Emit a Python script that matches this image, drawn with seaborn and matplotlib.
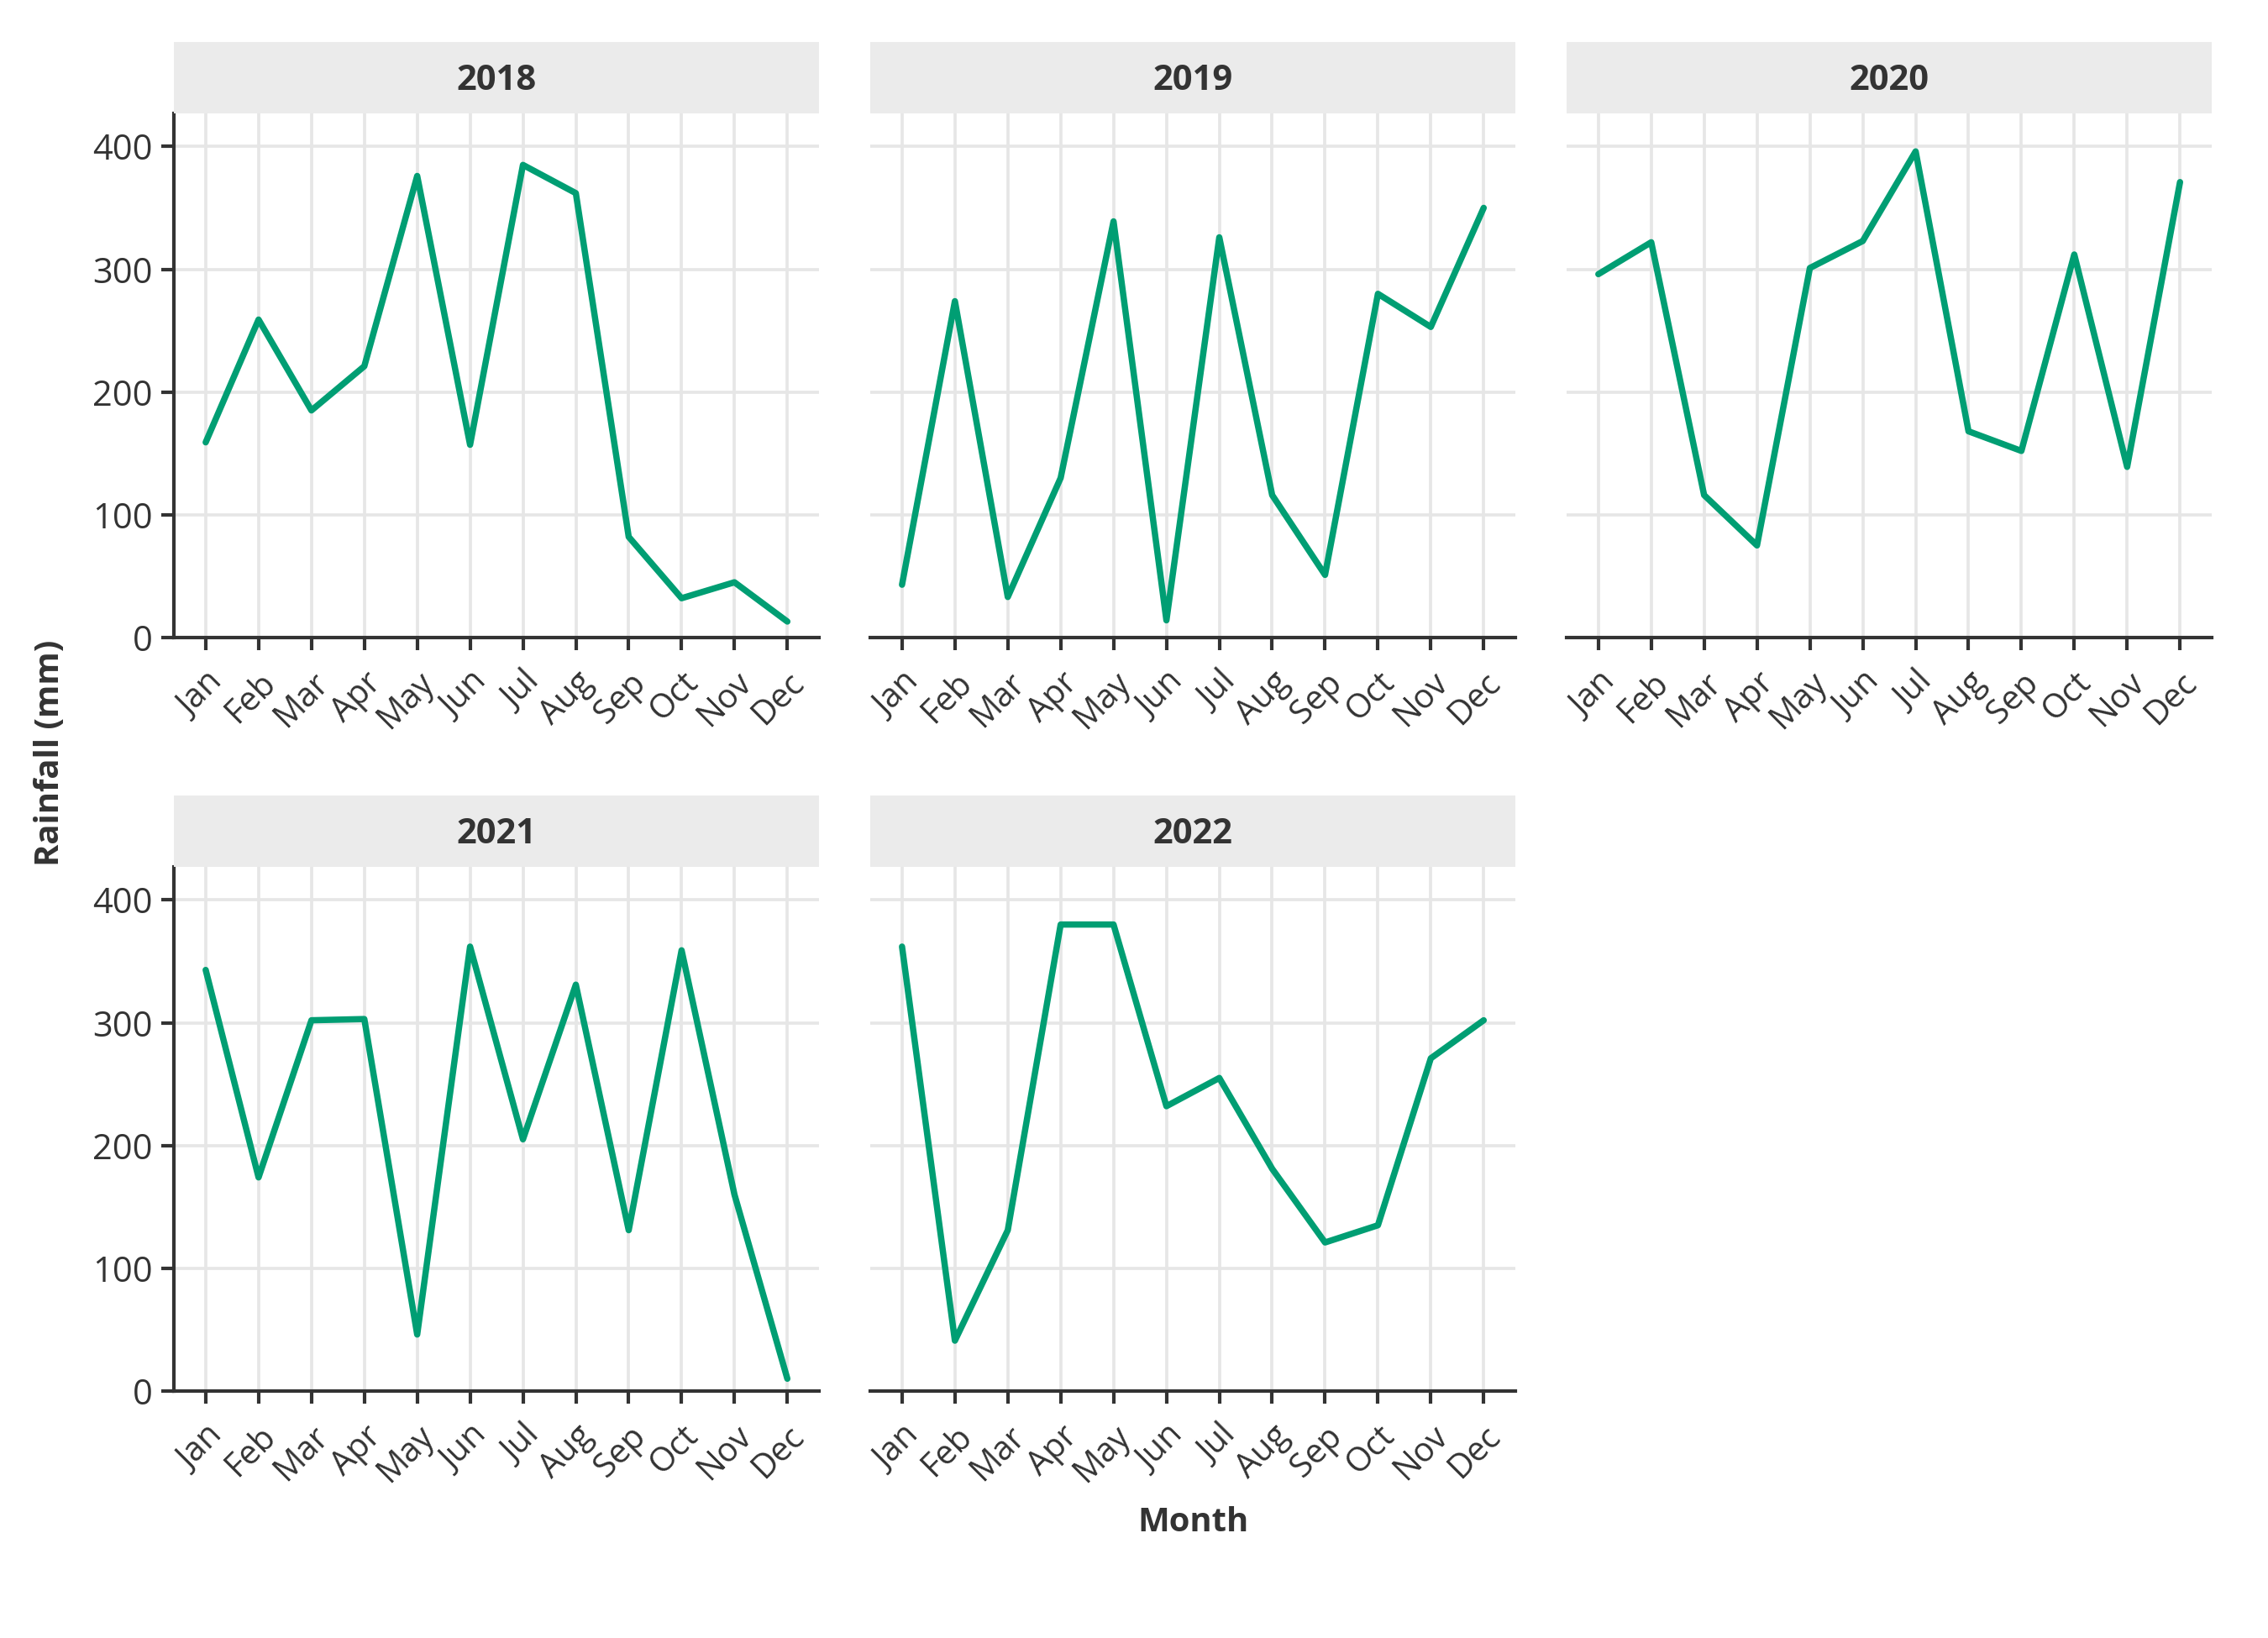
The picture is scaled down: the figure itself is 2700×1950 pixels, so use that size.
import matplotlib
matplotlib.use("Agg")
import matplotlib.pyplot as plt
from matplotlib.patches import Rectangle
import seaborn as sns
import pandas as pd

months = ["Jan", "Feb", "Mar", "Apr", "May", "Jun",
          "Jul", "Aug", "Sep", "Oct", "Nov", "Dec"]
years = [2018, 2019, 2020, 2021, 2022]

rain_2018 = [159, 259, 185, 221, 376, 157, 385, 362, 82, 32, 45, 13]
rain_2019 = [43, 274, 33, 130, 339, 14, 326, 116, 51, 280, 253, 350]
rain_2020 = [296, 322, 116, 75, 301, 323, 396, 168, 152, 312, 139, 371]
rain_2021 = [343, 174, 302, 303, 46, 362, 205, 331, 131, 359, 160, 10]
rain_2022 = [362, 41, 131, 380, 380, 232, 255, 181, 121, 135, 271, 302]

y_ticks = [0, 100, 200, 300, 400]

series = [rain_2018, rain_2019, rain_2020, rain_2021, rain_2022]
rows = []
for yr, vals in zip(years, series):
    for m, v in zip(months, vals):
        rows.append({"Year": yr, "Month": m, "Rainfall": v})
df = pd.DataFrame(rows)

sns.set_theme(style="whitegrid")
plt.rcParams["font.family"] = ["Open Sans", "DejaVu Sans"]
plt.rcParams.update({
    "grid.color": "#e6e6e6",
    "grid.linewidth": 0.9,
    "axes.edgecolor": "#333333",
    "axes.linewidth": 1.0,
    "xtick.color": "#333333",
    "ytick.color": "#333333",
    "xtick.labelcolor": "#333333",
    "ytick.labelcolor": "#333333",
    "text.color": "#333333",
    "axes.labelcolor": "#333333",
})

GREEN = "#009E73"
DARK = "#333333"

g = sns.relplot(data=df, x="Month", y="Rainfall", col="Year", col_wrap=3,
                kind="line", color=GREEN, linewidth=1.8,
                height=3, aspect=1, facet_kws={"sharey": True, "sharex": True})

fig = g.figure
fig.set_size_inches(9, 6.5)
fig.subplots_adjust(left=0.0767, right=0.9752, top=0.9308, bottom=0.1508,
                    wspace=0.0794, hspace=0.4375)

g.set_titles("")
g.set_axis_labels("", "")

axes = g.axes.flatten()
for i, (ax, yr) in enumerate(zip(axes, years)):
    ax.set_ylim(0, 427)
    ax.set_xlim(-0.6, 11.6)
    ax.set_yticks(y_ticks)
    ax.grid(True, axis="both", color="#e6e6e6", linewidth=0.9)
    ax.set_axisbelow(True)
    for s in ["top", "right"]:
        ax.spines[s].set_visible(False)
    ax.spines["bottom"].set_visible(True)
    ax.spines["bottom"].set_color(DARK)
    left_col = (i % 3 == 0)
    ax.spines["left"].set_visible(left_col)
    ax.spines["left"].set_color(DARK)
    ax.tick_params(axis="x", bottom=True, length=3.6, width=1.0,
                   color=DARK, labelsize=9.5, pad=4.5, labelbottom=True)
    ax.tick_params(axis="y", left=left_col, length=3.6, width=1.0,
                   color=DARK, labelsize=10, pad=2.5, labelleft=left_col)
    ax.set_xticks(range(len(months)))
    ax.set_xticklabels(months, rotation=45, ha="right", va="top",
                       rotation_mode="anchor")
    # facet strip
    strip_h = 0.136
    ax.add_patch(Rectangle((0, 1.0), 1, strip_h, transform=ax.transAxes,
                           facecolor="#ebebeb", edgecolor="none",
                           clip_on=False, zorder=3))
    ax.text(0.5, 1.0443, str(yr), transform=ax.transAxes,
            ha="center", va="baseline", fontsize=10, fontweight="bold",
            color=DARK, zorder=4)
    ax.set_xlabel("")
    ax.set_ylabel("")

bbox4 = axes[4].get_position()
fig.text((bbox4.x0 + bbox4.x1) / 2, 0.0651, "Month", ha="center",
         va="baseline", fontsize=9.6, fontweight="bold", color=DARK)
fig.text(0.0259, 0.5405, "Rainfall (mm)", rotation=90, ha="center",
         va="baseline", rotation_mode="anchor",
         fontsize=9.6, fontweight="bold", color=DARK)

fig.savefig("out.png", dpi=300, facecolor="white")
